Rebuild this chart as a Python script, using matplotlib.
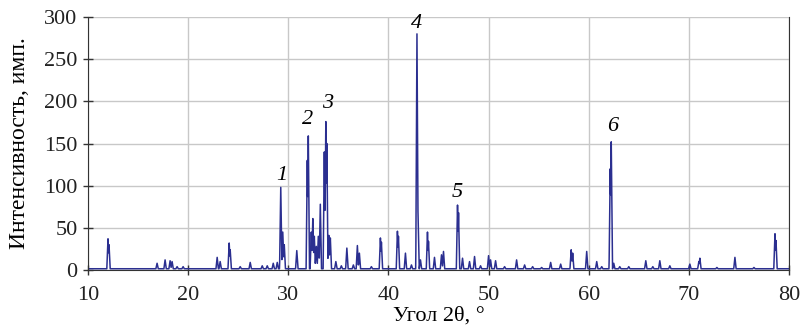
import numpy as np
import matplotlib
matplotlib.use("Agg")
import matplotlib.pyplot as plt

peak_pos = [12.0, 12.1, 16.9, 17.7, 18.2, 18.4, 18.9, 19.5, 22.9, 23.2, 24.1, 24.2,
            25.2, 26.2, 27.4, 27.9, 28.5, 28.9, 29.25, 29.45, 29.6, 30.85,
            31.9, 32.0, 32.3, 32.45, 32.6, 32.8, 33.0, 33.2, 33.6, 33.75, 33.85, 34.05,
            34.2, 34.75, 35.3, 35.85, 36.5, 36.9, 37.1, 38.3, 39.2, 39.3, 40.9, 41.0,
            41.7, 42.3, 42.85, 42.95, 43.2, 43.9, 44.0, 44.6, 45.3, 45.5, 46.9, 47.0,
            47.4, 48.1, 48.6, 49.2, 50.0, 50.2, 50.7, 51.6, 52.8, 53.6, 54.4, 55.3,
            56.2, 57.2, 58.25, 58.4, 59.8, 60.8, 61.3, 62.15, 62.25, 62.5, 63.1, 64.0,
            65.7, 66.4, 67.1, 68.1, 70.1, 71.0, 71.1, 72.8, 74.6, 76.5, 78.6, 78.7]
peak_int = [37, 30, 8, 12, 11, 10, 4, 4, 15, 10, 32, 24,
            4, 9, 5, 5, 8, 9, 98, 45, 30, 23,
            130, 159, 45, 61, 40, 28, 40, 78, 140, 176, 150, 41,
            38, 10, 5, 26, 6, 29, 20, 4, 38, 33, 46, 40,
            20, 6, 280, 70, 12, 45, 34, 15, 18, 22, 77, 68,
            14, 10, 16, 5, 17, 12, 11, 4, 12, 6, 4, 3,
            9, 7, 24, 20, 22, 10, 4, 120, 152, 8, 4, 4,
            11, 4, 11, 5, 7, 10, 14, 3, 15, 3, 43, 35]
baseline = 1.5

label_txt = ["1", "2", "3", "4", "5", "6"]
label_x = [29.4, 31.9, 33.9, 42.8, 46.9, 62.35]
label_y = [112, 178, 197, 292, 92, 170]

plt.rcParams['font.family'] = ['Liberation Serif', 'DejaVu Serif']

x = np.union1d(np.arange(10, 80.0001, 0.02), peak_pos)
y = np.full_like(x, baseline)
for p, h in zip(peak_pos, peak_int):
    tri = baseline + (h - baseline) * np.clip(1 - np.abs(x - p) / 0.12, 0, 1)
    y = np.maximum(y, tri)

fig = plt.figure(figsize=(8.02, 3.32), dpi=100)
ax = fig.add_axes([0.1097, 0.1867, 0.8741, 0.7621])
ax.plot(x, y, color='#2b2f90', lw=1.1)

for t, lx, ly in zip(label_txt, label_x, label_y):
    ax.text(lx, ly, t, fontsize=16, style='italic', ha='center', va='center')

ax.set_xlim(10, 80)
ax.set_ylim(0, 300)
ax.set_xticks(range(10, 81, 10))
ax.set_yticks(range(0, 301, 50))
ax.grid(True, color='#c8c8c8', lw=1.0)
ax.set_axisbelow(True)
ax.tick_params(direction='inout', length=7, width=1, labelsize=16, colors='#333333')
ax.tick_params(axis='x', pad=8)
ax.tick_params(axis='y', pad=4)
ax.tick_params(labelcolor='#222222')
for s in ['left', 'bottom', 'right']:
    ax.spines[s].set_color('#333333')
ax.spines['top'].set_visible(False)
ax.set_xlabel('Угол 2θ, °', fontsize=16, labelpad=1)
ax.set_ylabel('Интенсивность, имп.', fontsize=17, labelpad=10)

fig.savefig('out.png', dpi=100)
